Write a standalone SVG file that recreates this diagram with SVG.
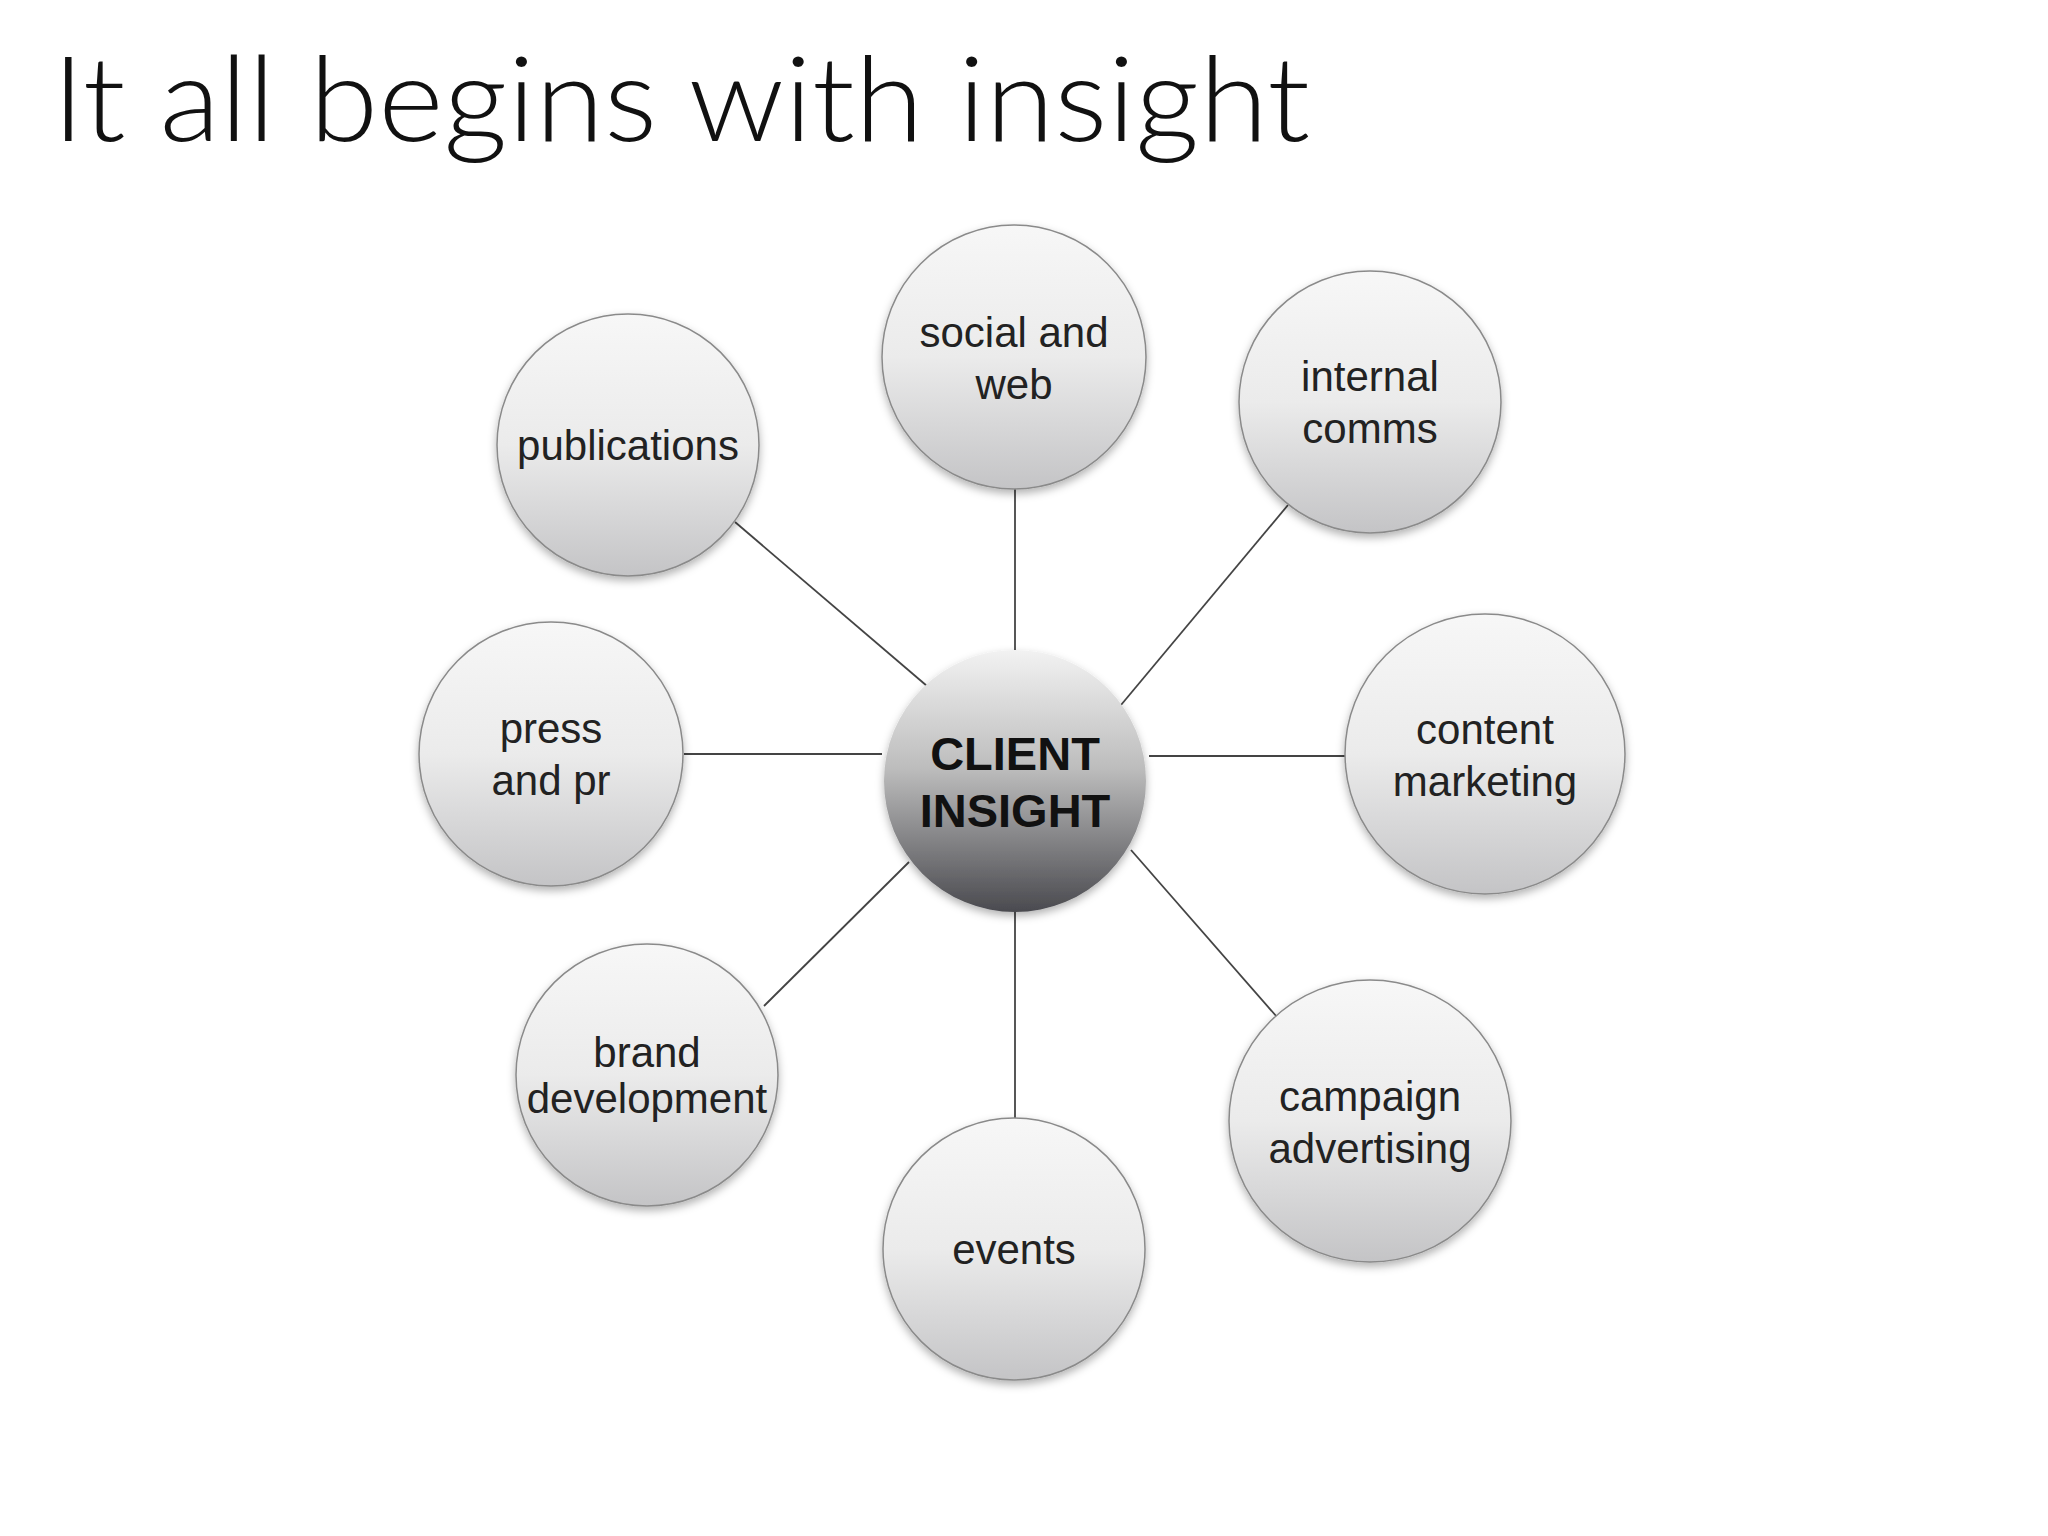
<svg xmlns="http://www.w3.org/2000/svg" width="2048" height="1536" viewBox="0 0 2048 1536">
<defs>
<linearGradient id="g" x1="0" y1="0" x2="0" y2="1"><stop offset="0" stop-color="#f7f7f7"/><stop offset="0.5" stop-color="#ebebeb"/><stop offset="1" stop-color="#c4c4c6"/></linearGradient>
<linearGradient id="gc" x1="0" y1="0" x2="0" y2="1"><stop offset="0" stop-color="#f2f2f2"/><stop offset="0.45" stop-color="#bdbdbd"/><stop offset="1" stop-color="#4a4a4f"/></linearGradient>
<filter id="sh" x="-20%" y="-20%" width="140%" height="150%"><feDropShadow dx="0" dy="4" stdDeviation="4" flood-color="#000" flood-opacity="0.3"/></filter>
</defs>
<style>
.n{fill:url(#g);stroke:#8a8a8a;stroke-width:1.5;filter:url(#sh)}
.c{fill:url(#gc);filter:url(#sh)}
.t{font-family:"Helvetica","Liberation Sans",Arial,sans-serif;font-size:42px;fill:#222;text-anchor:middle}
.b{font-family:"Liberation Sans",Arial,sans-serif;font-size:47px;font-weight:bold;fill:#111;text-anchor:middle}
line{stroke:#444;stroke-width:1.8}
</style>
<rect width="2048" height="1536" fill="#fff"/>
<text x="52" y="141" font-family="Lato,'Open Sans',sans-serif" font-weight="300" font-size="118" fill="#111" textLength="1258" lengthAdjust="spacingAndGlyphs">It all begins with insight</text>
<g id="connectors">
<line x1="735" y1="522" x2="927" y2="686"/>
<line x1="1015" y1="486" x2="1015" y2="653"/>
<line x1="1288" y1="505" x2="1121" y2="705"/>
<line x1="1149" y1="756" x2="1345" y2="756"/>
<line x1="1131" y1="850" x2="1277" y2="1017"/>
<line x1="1015" y1="912" x2="1015" y2="1121"/>
<line x1="909" y1="862" x2="764" y2="1006"/>
<line x1="684" y1="754" x2="882" y2="754"/>
</g>
<g id="social"><circle class="n" cx="1014" cy="357" r="132"/><text class="t" x="1014" y="347">social and</text><text class="t" x="1014" y="399">web</text></g>
<g id="internal"><circle class="n" cx="1370" cy="402" r="131"/><text class="t" x="1370" y="391">internal</text><text class="t" x="1370" y="443">comms</text></g>
<g id="content"><circle class="n" cx="1485" cy="754" r="140"/><text class="t" x="1485" y="744">content</text><text class="t" x="1485" y="796">marketing</text></g>
<g id="campaign"><circle class="n" cx="1370" cy="1121" r="141"/><text class="t" x="1370" y="1111">campaign</text><text class="t" x="1370" y="1163">advertising</text></g>
<g id="events"><circle class="n" cx="1014" cy="1249" r="131"/><text class="t" x="1014" y="1264">events</text></g>
<g id="brand"><circle class="n" cx="647" cy="1075" r="131"/><text class="t" x="647" y="1067" font-size="39">brand</text><text class="t" x="647" y="1113" font-size="39">development</text></g>
<g id="press"><circle class="n" cx="551" cy="754" r="132"/><text class="t" x="551" y="743">press</text><text class="t" x="551" y="795">and pr</text></g>
<g id="publications"><circle class="n" cx="628" cy="445" r="131"/><text class="t" x="628" y="460" font-size="40">publications</text></g>
<g id="center"><circle class="c" cx="1015" cy="781" r="131"/><text class="b" x="1015" y="770">CLIENT</text><text class="b" x="1015" y="827">INSIGHT</text></g>
</svg>
